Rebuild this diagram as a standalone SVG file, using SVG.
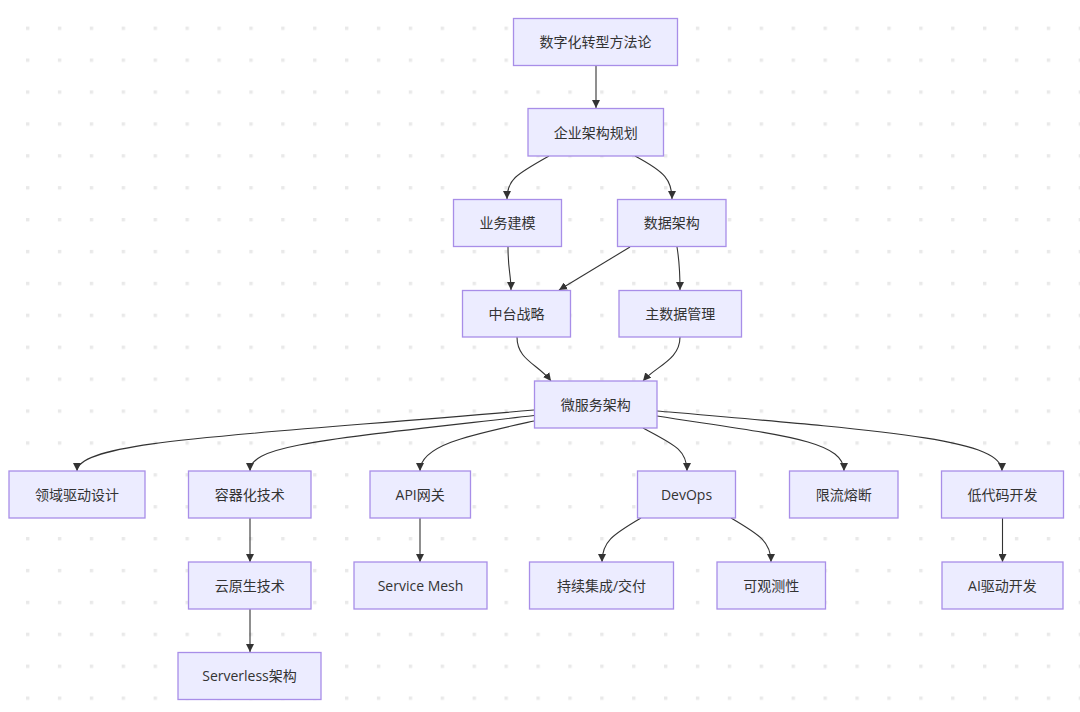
<svg xmlns="http://www.w3.org/2000/svg" width="1080" height="712" viewBox="0 0 1080 712">
<style>
.node rect{fill:#ECECFF;stroke:#A88EE8;stroke-width:1.3}
.node text{font-family:"Open Sans","Noto Sans CJK SC",sans-serif;font-size:14px;fill:#333;text-anchor:middle}
.edges path{fill:none;stroke:#333;stroke-width:1.1}
</style>
<defs>
<pattern id="dots" patternUnits="userSpaceOnUse" x="26" y="26.6" width="31.9" height="31.9">
<rect x="0" y="0" width="3.4" height="3.4" fill="#E9E9E9"/>
</pattern>
<marker id="arr" viewBox="0 0 10 10" refX="10" refY="5" markerWidth="8" markerHeight="8" markerUnits="userSpaceOnUse" orient="auto">
<path d="M0,0 L10,5 L0,10 z" fill="#333"/>
</marker>
</defs>
<rect width="1080" height="712" fill="#FFFFFF"/>
<rect width="1080" height="712" fill="url(#dots)"/>
<g class="edges" marker-end="url(#arr)">
<path d="M596,65 L596,108" marker-end="url(#arr)"/>
<path d="M549,156 C515,175 507,180 507,199" marker-end="url(#arr)"/>
<path d="M635,156 C665,172 672,180 672,199" marker-end="url(#arr)"/>
<path d="M508,247 C508,270 511,275 511,290" marker-end="url(#arr)"/>
<path d="M630,247 L559,290" marker-end="url(#arr)"/>
<path d="M677,247 C680,265 680,275 680,290" marker-end="url(#arr)"/>
<path d="M517,337 C517,360 538,364 551,381" marker-end="url(#arr)"/>
<path d="M680,337 C680,360 656,366 643,381" marker-end="url(#arr)"/>
<path d="M534,410 C250,435 77,440 77,471" marker-end="url(#arr)"/>
<path d="M534,415.5 C320,440 250,445 250,471" marker-end="url(#arr)"/>
<path d="M534,421 C470,435 420,445 420,471" marker-end="url(#arr)"/>
<path d="M643,428 C675,445 687,450 687,471" marker-end="url(#arr)"/>
<path d="M657,416 C780,435 844,440 844,471" marker-end="url(#arr)"/>
<path d="M657,411 C900,432 1002,440 1002,471" marker-end="url(#arr)"/>
<path d="M250,518 L250,562" marker-end="url(#arr)"/>
<path d="M250,609 L250,652" marker-end="url(#arr)"/>
<path d="M420,518 L420,562" marker-end="url(#arr)"/>
<path d="M641,518 C612,535 602,542 602,562" marker-end="url(#arr)"/>
<path d="M731,518 C760,535 771,542 771,562" marker-end="url(#arr)"/>
<path d="M1002.5,518 L1002.5,562" marker-end="url(#arr)"/>
</g>
<g id="n1" class="node"><rect x="513.5" y="18.5" width="164" height="47"/><text x="595.5" y="47">数字化转型方法论</text></g>
<g id="n2" class="node"><rect x="528" y="108.5" width="135.5" height="47.5"/><text x="595.7" y="137.5">企业架构规划</text></g>
<g id="n3" class="node"><rect x="453.5" y="199.5" width="108" height="47"/><text x="507.5" y="228">业务建模</text></g>
<g id="n4" class="node"><rect x="617.5" y="199.5" width="108.5" height="47"/><text x="671.7" y="228">数据架构</text></g>
<g id="n5" class="node"><rect x="462.5" y="290.5" width="108" height="46.5"/><text x="516.5" y="318.8">中台战略</text></g>
<g id="n6" class="node"><rect x="619" y="290.5" width="122.5" height="46.5"/><text x="680.2" y="318.8">主数据管理</text></g>
<g id="n7" class="node"><rect x="534.5" y="381" width="122.5" height="47"/><text x="595.7" y="409.5">微服务架构</text></g>
<g id="n8" class="node"><rect x="9" y="471" width="136" height="47"/><text x="77" y="499.5">领域驱动设计</text></g>
<g id="n9" class="node"><rect x="188.5" y="471" width="122.5" height="47"/><text x="249.7" y="499.5">容器化技术</text></g>
<g id="n10" class="node"><rect x="370" y="471" width="100.5" height="47"/><text x="420.2" y="499.5">API网关</text></g>
<g id="n11" class="node"><rect x="637.5" y="471" width="98" height="47"/><text x="686.5" y="499.5">DevOps</text></g>
<g id="n12" class="node"><rect x="789.5" y="471" width="108.5" height="47"/><text x="843.7" y="499.5">限流熔断</text></g>
<g id="n13" class="node"><rect x="941.5" y="471" width="122" height="47"/><text x="1002.5" y="499.5">低代码开发</text></g>
<g id="n14" class="node"><rect x="188.5" y="562" width="122.5" height="47"/><text x="249.7" y="590.5">云原生技术</text></g>
<g id="n15" class="node"><rect x="354" y="562" width="133" height="47"/><text x="420.5" y="590.5">Service Mesh</text></g>
<g id="n16" class="node"><rect x="529.5" y="562" width="144" height="47"/><text x="601.5" y="590.5">持续集成/交付</text></g>
<g id="n17" class="node"><rect x="717" y="562" width="108.5" height="47"/><text x="771.2" y="590.5">可观测性</text></g>
<g id="n18" class="node"><rect x="942" y="562" width="121" height="47"/><text x="1002.5" y="590.5">AI驱动开发</text></g>
<g id="n19" class="node"><rect x="178" y="652.5" width="143" height="47"/><text x="249.5" y="681">Serverless架构</text></g>
</svg>
